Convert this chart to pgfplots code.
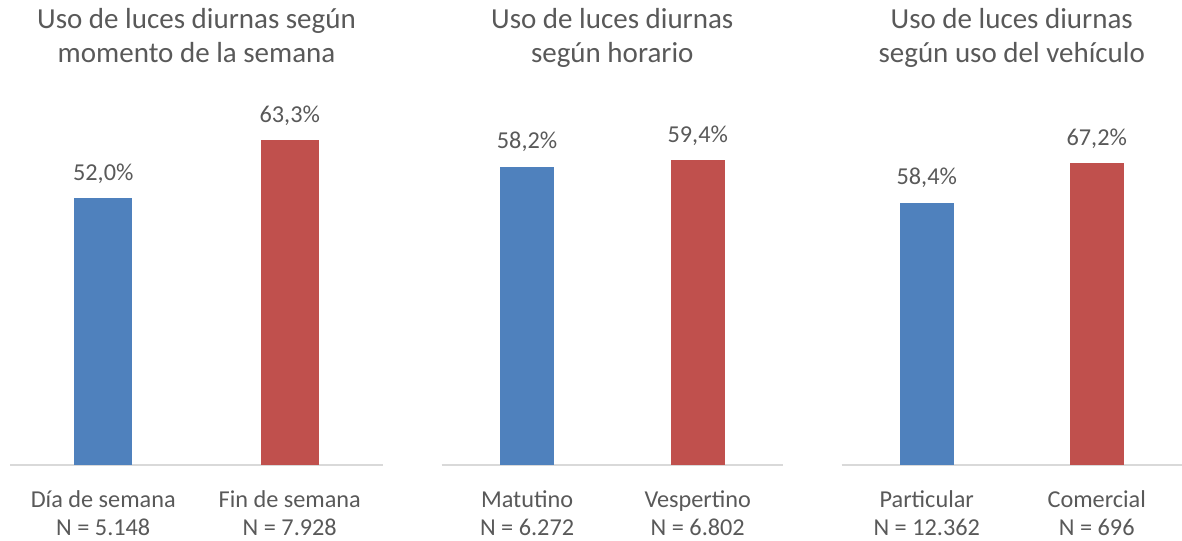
\documentclass[border=0pt]{standalone}
\usepackage{pgfplots}
\pgfplotsset{compat=1.18}
\usepackage{fontspec}
\setmainfont{Carlito}
\definecolor{cblue}{HTML}{4F81BD}
\definecolor{cred}{HTML}{C0504D}
\definecolor{ctext}{HTML}{595959}
\definecolor{cline}{HTML}{D9D9D9}
\newcommand\labelfont{\fontsize{18.2}{21.3}\selectfont}
\newcommand\titlefont{\fontsize{21.75}{25.5}\selectfont}
\pgfplotsset{
 panel/.style={
  scale only axis, anchor=south west, height=269.25pt,
  xmin=-0.5, xmax=1.5, ymin=0, enlargelimits=false,
  axis x line*=bottom, axis y line=none,
  x axis line style={draw=cline, line width=1.3pt},
  xtick={0,1}, xtick style={draw=none}, ytick=\empty,
  ybar, bar shift=0pt,
  xticklabel style={font=\labelfont, text=ctext, align=center, anchor=base, inner sep=0pt, yshift=-48.8pt},
  nodes near coords, point meta=explicit symbolic,
  every node near coord/.append style={font=\labelfont, text=ctext, anchor=base, yshift=13.5pt},
  clip=false,
 }
}
\begin{document}
\begin{tikzpicture}
\path[use as bounding box] (0,0) rectangle (886.5pt,405pt);
% Panel 1
\begin{axis}[panel, at={(7.5pt,56.25pt)}, width=279.75pt, ymax=70, bar width=0.31,
  xticklabels={{Día de semana\\N = 5.148},{Fin de semana\\N = 7.928}}]
\addplot[fill=cblue, draw=none] coordinates {(0,52.0) [52,0\%]};
\addplot[fill=cred, draw=none] coordinates {(1,63.3) [63,3\%]};
\end{axis}
% Panel 2
\begin{axis}[panel, at={(331.3pt,56.25pt)}, width=256pt, ymax=70, bar width=0.316,
  xticklabels={{Matutino\\N = 6.272},{Vespertino\\N = 6.802}}]
\addplot[fill=cblue, draw=none] coordinates {(0,58.2) [58,2\%]};
\addplot[fill=cred, draw=none] coordinates {(1,59.4) [59,4\%]};
\end{axis}
% Panel 3
\begin{axis}[panel, at={(631.3pt,56.25pt)}, width=255pt, ymax=80, bar width=0.32,
  xticklabels={{Particular\\N = 12.362},{Comercial\\N = 696}}]
\addplot[fill=cblue, draw=none] coordinates {(0,58.4) [58,4\%]};
\addplot[fill=cred, draw=none] coordinates {(1,67.2) [67,2\%]};
\end{axis}
% Titles
\begin{scope}[every node/.style={font=\titlefont, text=ctext, anchor=base, inner sep=0pt}]
\node at (147.4pt,383.25pt) {Uso de luces diurnas según};
\node at (147.4pt,357.75pt) {momento de la semana};
\node at (459.2pt,383.25pt) {Uso de luces diurnas};
\node at (459.2pt,357.75pt) {según horario};
\node at (758.8pt,383.25pt) {Uso de luces diurnas};
\node at (758.8pt,357.75pt) {según uso del vehículo};
\end{scope}
\end{tikzpicture}
\end{document}
